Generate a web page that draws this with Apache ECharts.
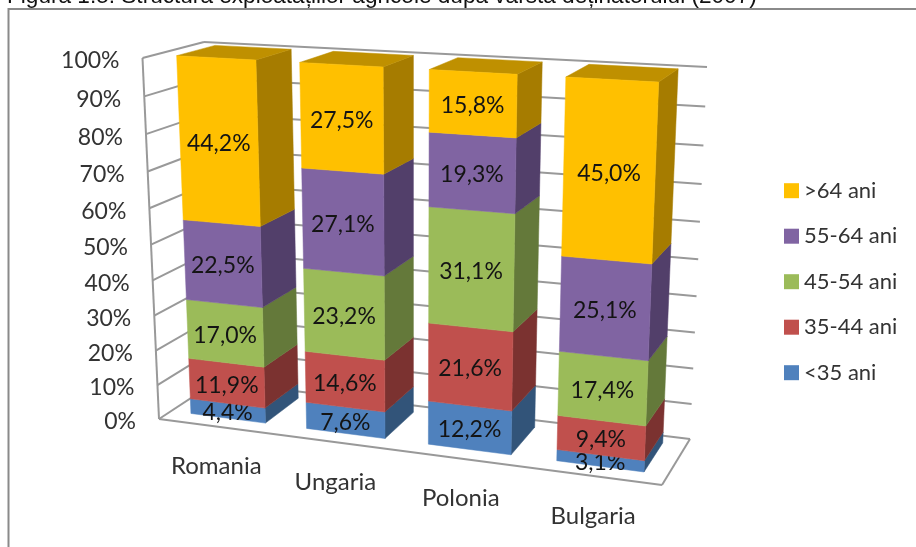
<!DOCTYPE html>
<html>
<head>
<meta charset="utf-8">
<style>html,body{margin:0;padding:0;background:#fff;overflow:hidden}#c{width:916px;height:547px}</style>
<script src="https://cdn.jsdelivr.net/npm/echarts@6/dist/echarts.min.js"></script>
</head>
<body>
<div id="c"></div>
<script>
const titleText = 'Figura 1.5. Structura exploatațiilor agricole după vârsta deținătorului (2007)';
const categories = ['Romania', 'Ungaria', 'Polonia', 'Bulgaria'];
const yTicks = [0, 10, 20, 30, 40, 50, 60, 70, 80, 90, 100];
const seriesNames = ['<35 ani', '35-44 ani', '45-54 ani', '55-64 ani', '>64 ani'];
const under35 = [4.4, 7.6, 12.2, 3.1];
const from35to44 = [11.9, 14.6, 21.6, 9.4];
const from45to54 = [17.0, 23.2, 31.1, 17.4];
const from55to64 = [22.5, 27.1, 19.3, 25.1];
const over64 = [44.2, 27.5, 15.8, 45.0];
const seriesValues = [under35, from35to44, from45to54, from55to64, over64];
const frontColors = ['#4F81BD', '#C0504D', '#9BBB59', '#8064A2', '#FFC000'];
const sideColors = ['#325479', '#7B3230', '#64793A', '#523F6A', '#A67C00'];
const topColor = '#BF9000';

// Perspective box of the 3D plot (screen corners) and its warp factors
const box = {
  A: [159, 419], B: [662, 485], C: [142.5, 58], D: [678, 88],   // front: bottom-left, bottom-right, top-left, top-right
  E: [216, 381.6], F: [690, 439], G: [204, 42], H: [707, 67]    // back
};
const warpU = 0.10, warpV = 0.065, warpD = 0.10;
const depthFront = 0.2, depthBack = 0.84, barFill = 0.65;
const FONT = 'Lato';

function project(u, v, d) {
  const wu = [1 - u, (1 - warpU) * u];
  const wv = [1 - v, (1 - warpV) * v];
  const wd = [1 - d, (1 + warpD) * d];
  const corners = [[box.A, box.B], [box.C, box.D]];
  const back = [[box.E, box.F], [box.G, box.H]];
  let sx = 0, sy = 0, sw = 0;
  for (let i = 0; i < 2; i++) for (let j = 0; j < 2; j++) for (let k = 0; k < 2; k++) {
    const w = wu[i] * wv[j] * wd[k];
    const p = (k ? back : corners)[j][i];
    sx += w * p[0]; sy += w * p[1]; sw += w;
  }
  return [sx / sw, sy / sw];
}
function norm(params, pt) {
  const cs = params.coordSys;
  return [(pt[0] - cs.x) / cs.width, (cs.y + cs.height - pt[1]) / cs.height];
}
function poly(points, fill) {
  return { type: 'polygon', shape: { points }, style: { fill, stroke: fill, lineWidth: 0.5 } };
}
function line(p, q, w) {
  return { type: 'line', shape: { x1: p[0], y1: p[1], x2: q[0], y2: q[1] },
    style: { stroke: '#999999', lineWidth: w || 2 } };
}
function textEl(x, y, text, size, color, align) {
  return { type: 'text', x, y, style: { text, fontFamily: FONT, fontSize: size, fill: color,
    textAlign: align || 'center', textVerticalAlign: 'middle' } };
}

const barSeries = seriesNames.map((name, s) => ({
  name, type: 'custom', coordinateSystem: 'cartesian2d', z: 5,
  itemStyle: { color: frontColors[s] },
  data: categories.map((c, i) => {
    let start = 0;
    for (let k = 0; k < s; k++) start += seriesValues[k][i];
    return [i, start, start + seriesValues[s][i], seriesValues[s][i]];
  }),
  encode: { x: 0, y: [1, 2] },
  renderItem(params, api) {
    const i = api.value(0);
    const half = api.size([1, 0])[0] * barFill / 2;
    const lo = api.coord([i, api.value(1)]);
    const hi = api.coord([i, api.value(2)]);
    const n0 = norm(params, [lo[0] - half, lo[1]]);
    const n1 = norm(params, [lo[0] + half, hi[1]]);
    const [u0, v0] = n0, [u1, v1] = n1;
    const fl = project(u0, v0, depthFront), fr = project(u1, v0, depthFront);
    const tl = project(u0, v1, depthFront), tr = project(u1, v1, depthFront);
    const br = project(u1, v0, depthBack), trb = project(u1, v1, depthBack), tlb = project(u0, v1, depthBack);
    const children = [poly([fr, br, trb, tr], sideColors[s])];
    if (s === seriesNames.length - 1) children.push(poly([tl, tr, trb, tlb], topColor));
    children.push(poly([fl, fr, tr, tl], frontColors[s]));
    const c = project((u0 + u1) / 2, (v0 + v1) / 2, depthFront);
    children.push(textEl(c[0], c[1] + 2, api.value(3).toFixed(1).replace('.', ',') + '%', 23, '#141414'));
    return { type: 'group', children };
  }
}));

const wallSeries = {
  type: 'custom', coordinateSystem: 'cartesian2d', z: 1, silent: true,
  data: yTicks.map(t => [0, t]),
  encode: { x: 0, y: 1 },
  renderItem(params, api) {
    const v = norm(params, api.coord([0, api.value(1)]))[1];
    const children = [line(project(0, v, 0), project(0, v, 1)), line(project(0, v, 1), project(1, v, 1))];
    if (api.value(1) === 0) {
      children.push(line(project(0, 0, 0), project(1, 0, 0)), line(project(1, 0, 0), project(1, 0, 1)));
      children.push(line(project(0, 0, 0), project(0, 1, 0)));
    }
    return { type: 'group', children };
  }
};

const yLabelSeries = {
  type: 'custom', coordinateSystem: 'cartesian2d', z: 6, silent: true,
  data: yTicks.map(t => [0, t]),
  encode: { x: 0, y: 1 },
  renderItem(params, api) {
    const v = norm(params, api.coord([0, api.value(1)]))[1];
    const p = project(0, v, 0);
    return textEl(p[0] - 23, p[1] + 3, api.value(1) + '%', 23, '#333', 'right');
  }
};

const xLabelSeries = {
  type: 'custom', coordinateSystem: 'cartesian2d', z: 6, silent: true,
  data: categories.map((c, i) => [i, 0]),
  encode: { x: 0, y: 1 },
  renderItem(params, api) {
    const i = api.value(0);
    const n = norm(params, api.coord([i, 0]));
    const p = project(n[0], 0, 0);
    return textEl(p[0], p[1] + 40, categories[i], 24, '#333');
  }
};

const chart = echarts.init(document.getElementById('c'), null, { renderer: 'canvas' });
chart.setOption({
  animation: false,
  backgroundColor: '#fff',
  title: {
    text: titleText, left: 7, top: -15, padding: 0,
    textStyle: { fontFamily: 'Liberation Sans', fontSize: 22.6, fontWeight: 'normal', color: '#111' }
  },
  graphic: [{
    type: 'polyline', silent: true, z: 0,
    shape: { points: [[8.5, 547], [8.5, 9], [916, 9]] },
    style: { stroke: '#8a8a8a', lineWidth: 2, fill: null }
  }],
  legend: {
    orient: 'vertical', left: 784, top: 179.7, padding: 0, itemWidth: 15, itemHeight: 15, itemGap: 23.5,
    icon: 'rect', selectedMode: false,
    data: seriesNames.slice().reverse(),
    textStyle: { fontFamily: FONT, fontSize: 22, color: '#333' }
  },
  grid: { left: 100, right: 300, top: 60, bottom: 100 },
  xAxis: { type: 'category', data: categories, show: false },
  yAxis: { type: 'value', min: 0, max: 100, interval: 10, show: false },
  series: [wallSeries, ...barSeries, yLabelSeries, xLabelSeries]
});
</script>
</body>
</html>
